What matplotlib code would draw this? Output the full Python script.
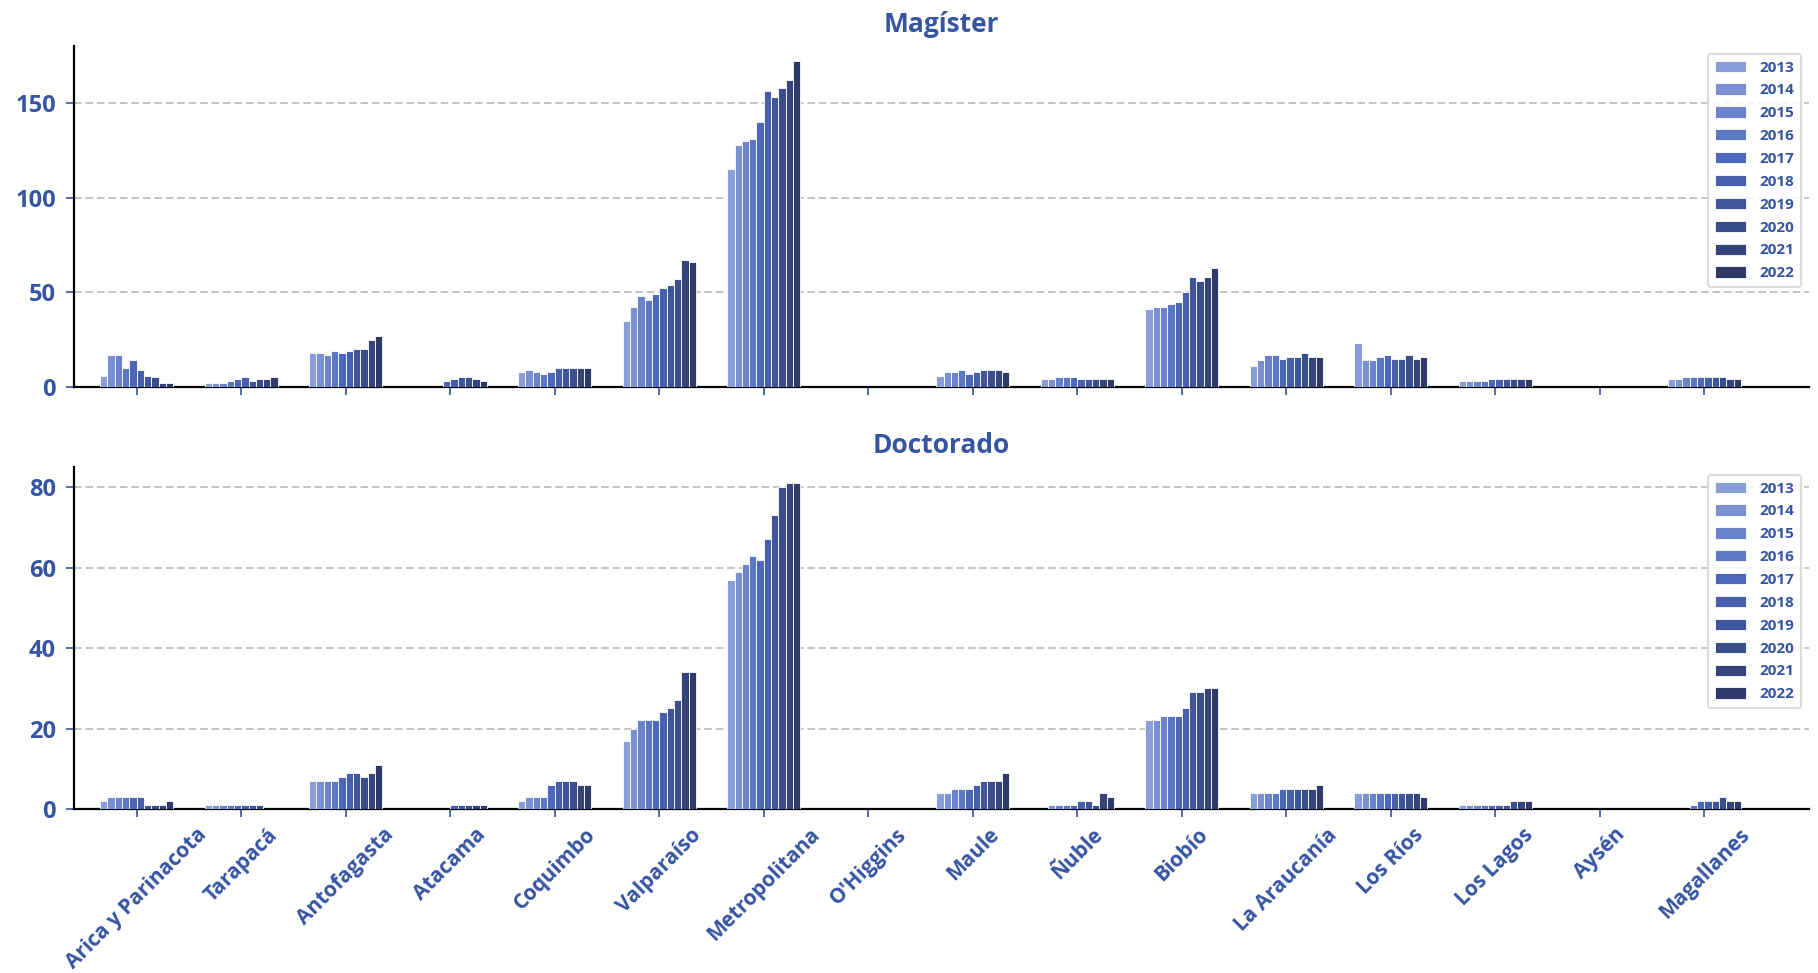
import numpy as np
import matplotlib
matplotlib.use("Agg")
import matplotlib.pyplot as plt

plt.rcParams['font.family'] = ['Open Sans', 'DejaVu Sans']
plt.rcParams['font.weight'] = 'bold'

TEXT = '#3554A2'

regions = ["Arica y Parinacota", "Tarapacá", "Antofagasta", "Atacama", "Coquimbo",
           "Valparaíso", "Metropolitana", "O'Higgins", "Maule", "Ñuble", "Biobío",
           "La Araucanía", "Los Ríos", "Los Lagos", "Aysén", "Magallanes"]
years = ["2013", "2014", "2015", "2016", "2017", "2018", "2019", "2020", "2021", "2022"]

# rows = regions, columns = years 2013..2022
magister = [
    [6, 17, 17, 10, 14, 9, 6, 5, 2, 2],
    [2, 2, 2, 3, 4, 5, 3, 4, 4, 5],
    [18, 18, 17, 19, 18, 19, 20, 20, 25, 27],
    [0, 0, 0, 0, 3, 4, 5, 5, 4, 3],
    [8, 9, 8, 7, 8, 10, 10, 10, 10, 10],
    [35, 42, 48, 46, 49, 52, 54, 57, 67, 66],
    [115, 128, 130, 131, 140, 156, 153, 158, 162, 172],
    [0, 0, 0, 0, 0, 0, 0, 0, 0, 0],
    [6, 8, 8, 9, 7, 8, 9, 9, 9, 8],
    [4, 4, 5, 5, 5, 4, 4, 4, 4, 4],
    [41, 42, 42, 44, 45, 50, 58, 56, 58, 63],
    [11, 14, 17, 17, 15, 16, 16, 18, 16, 16],
    [23, 14, 14, 16, 17, 15, 15, 17, 15, 16],
    [3, 3, 3, 3, 4, 4, 4, 4, 4, 4],
    [0, 0, 0, 0, 0, 0, 0, 0, 0, 0],
    [4, 4, 5, 5, 5, 5, 5, 5, 4, 4],
]

doctorado = [
    [2, 3, 3, 3, 3, 3, 1, 1, 1, 2],
    [1, 1, 1, 1, 1, 1, 1, 1, 0, 0],
    [7, 7, 7, 7, 8, 9, 9, 8, 9, 11],
    [0, 0, 0, 0, 0, 1, 1, 1, 1, 1],
    [2, 3, 3, 3, 6, 7, 7, 7, 6, 6],
    [17, 20, 22, 22, 22, 24, 25, 27, 34, 34],
    [57, 59, 61, 63, 62, 67, 73, 80, 81, 81],
    [0, 0, 0, 0, 0, 0, 0, 0, 0, 0],
    [4, 4, 5, 5, 5, 6, 7, 7, 7, 9],
    [0, 1, 1, 1, 1, 2, 2, 1, 4, 3],
    [22, 22, 23, 23, 23, 25, 29, 29, 30, 30],
    [4, 4, 4, 4, 5, 5, 5, 5, 5, 6],
    [4, 4, 4, 4, 4, 4, 4, 4, 4, 3],
    [1, 1, 1, 1, 1, 1, 1, 2, 2, 2],
    [0, 0, 0, 0, 0, 0, 0, 0, 0, 0],
    [0, 0, 0, 1, 2, 2, 2, 3, 2, 2],
]

year_colors = ['#8A9ED9', '#7A90D1', '#6A83CB', '#5C77C4', '#4D68BA',
               '#4660AE', '#3F569E', '#3A4D8C', '#35457B', '#2E3B68']

panels = [("Magíster", magister, [0, 50, 100, 150], 180),
          ("Doctorado", doctorado, [0, 20, 40, 60, 80], 85)]

fig = plt.figure(figsize=(18.18, 9.73), dpi=100)
axes = [fig.add_axes([0.0407, 0.6023, 0.9543, 0.3504]),
        fig.add_axes([0.0407, 0.1686, 0.9543, 0.3514])]

x = np.arange(len(regions))
bar_w = 0.07

for ax, (title, data, yticks, ymax) in zip(axes, panels):
    vals = np.array(data, dtype=float)
    for j, yr in enumerate(years):
        ax.bar(x + (j - 4.5) * bar_w, vals[:, j], width=bar_w,
               color=year_colors[j], edgecolor='white', linewidth=0.6,
               label=yr, zorder=3)
    ax.set_xlim(-0.6, 16.0)
    ax.set_ylim(0, ymax)
    ax.set_yticks(yticks)
    ax.yaxis.grid(True, color='#B4B4B4', linestyle=(0, (5, 2.5)), linewidth=1.1, zorder=0)
    ax.set_axisbelow(True)
    for s in ['top', 'right']:
        ax.spines[s].set_visible(False)
    for s in ['left', 'bottom']:
        ax.spines[s].set_linewidth(1.6)
        ax.spines[s].set_color('black')
    ax.tick_params(axis='both', colors=TEXT, length=6, width=1.2)
    ax.tick_params(axis='y', labelsize=17, pad=7)
    ax.tick_params(axis='x', labelsize=15, pad=5)
    for lbl in ax.get_yticklabels():
        lbl.set_fontweight('bold')
    ax.set_xticks(x)
    ax.set_title(title, fontsize=19, fontweight='bold', color=TEXT, pad=10)
    leg = ax.legend(loc='upper right', fontsize=11, handlelength=2.0,
                    handleheight=0.75, labelspacing=0.58, borderaxespad=0.5,
                    framealpha=0.85, edgecolor='#D6D6D6', fancybox=True,
                    borderpad=0.45, handletextpad=0.9)
    leg.get_frame().set_linewidth(1.5)
    for t in leg.get_texts():
        t.set_color(TEXT)
        t.set_fontweight('bold')

axes[0].set_xticklabels([])
axes[1].set_xticklabels(regions, rotation=45, fontweight='bold', color=TEXT)

fig.savefig('out.png', dpi=100)
